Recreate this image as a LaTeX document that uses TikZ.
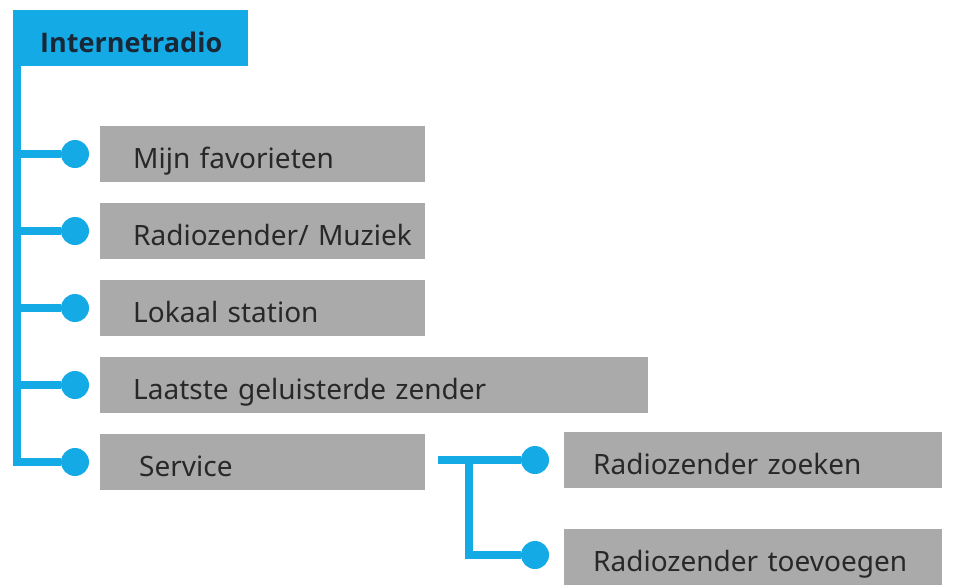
\documentclass[tikz,border=0pt]{standalone}
\usepackage{fontspec}
\setmainfont{Noto Sans}
\newfontfamily\titlefont{Open Sans}
\usetikzlibrary{positioning,calc}
\definecolor{radioblue}{RGB}{20,170,230}
\definecolor{menugray}{RGB}{170,170,170}
\definecolor{menutext}{RGB}{40,40,40}
\definecolor{titletext}{RGB}{25,40,55}

\begin{document}
\begin{tikzpicture}[x=1pt,y=-1pt,
    menu/.style={fill=menugray,anchor=west,minimum height=56pt,inner xsep=0pt,inner ysep=0pt,
        text height=34pt,text depth=5pt,align=left,text=menutext,font=\fontsize{28}{32}\selectfont},
    dot/.style={circle,fill=radioblue,minimum size=28pt,inner sep=0pt},
    branch/.style={radioblue,line width=7.5pt}]
    \useasboundingbox (0,0) rectangle (962,587);

    % Title block
    \node[fill=radioblue,anchor=north west,text width=235pt,minimum height=56pt,
        inner xsep=0pt,inner ysep=0pt,text height=33pt,text depth=5pt,align=left,text=titletext,
        font=\titlefont\fontsize{27}{30}\selectfont\bfseries] (radio) at (13,10) {\hspace*{27pt}Internetradio};

    % Main menu items
    \foreach \i/\w/\txt in {1/325/Mijn favorieten, 2/325/{Radiozender/ Muziek},
        3/325/Lokaal station, 4/548/Laatste geluisterde zender, 5/325/\hspace*{6pt}Service}{
        \node[menu,text width=\w pt] (item\i) at (100,77*\i+77) {\hspace*{33pt}\txt};
        \node[dot] (dot\i) at (75,77*\i+77) {};
        \coordinate (rail\i) at (17,77*\i+77);
        \draw[branch] (rail\i) -- (dot\i);
    }
    \draw[branch,line cap=rect] (radio.south west -| rail1) -- (rail5);

    % Service submenu
    \coordinate (sub) at (438,460);
    \node[dot] (dot6) at (535,460) {};
    \node[dot] (dot7) at (535,555) {};
    \node[menu,text width=378pt] (item6) at (564,460) {\hspace*{29pt}Radiozender zoeken};
    \node[menu,text width=378pt] (item7) at (564,557) {\hspace*{29pt}Radiozender toevoegen};
    \draw[branch] (sub) -- (dot6);
    \draw[branch] (dot6 -| 469,0) |- (dot7);
\end{tikzpicture}
\end{document}
